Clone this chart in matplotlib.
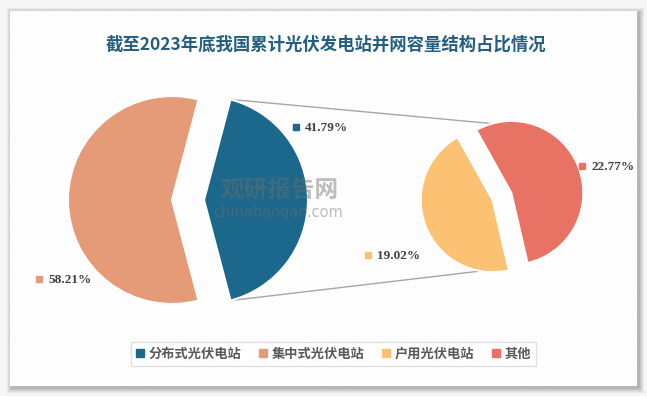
import numpy as np
import matplotlib
matplotlib.use("Agg")
import matplotlib.pyplot as plt
from matplotlib.patches import Rectangle
from matplotlib.lines import Line2D

plt.rcParams['font.family'] = ['Noto Sans CJK SC', 'DejaVu Sans']
plt.rcParams['hatch.linewidth'] = 0.4

# data
title = '截至2023年底我国累计光伏发电站并网容量结构占比情况'
main_labels = ['分布式光伏电站', '集中式光伏电站']
main_values = [41.79, 58.21]
sub_labels = ['其他', '户用光伏电站']
sub_values = [22.77, 19.02]
legend_order = ['分布式光伏电站', '集中式光伏电站', '户用光伏电站', '其他']

colors = {'分布式光伏电站': '#1b688c', '集中式光伏电站': '#e59a78',
          '户用光伏电站': '#fdc173', '其他': '#e87263'}

W, H = 647, 396
fig = plt.figure(figsize=(W / 100, H / 100), dpi=100)
fig.patch.set_facecolor('#f6f6f6')
ax = fig.add_axes([0, 0, 1, 1])

def py(y):
    return H - y

# card with soft shadow
for i, a in enumerate([0.05, 0.05, 0.05, 0.06, 0.07]):
    g = 5 - i
    ax.add_patch(Rectangle((10 - g + 2, py(386) - g - 2), 627 + 2 * g, 375 + 2 * g,
                           facecolor='#000000', edgecolor='none', alpha=a, zorder=0))
ax.add_patch(Rectangle((10, py(386)), 627, 375, facecolor='white',
                       edgecolor='none', zorder=1))
ax.add_patch(Rectangle((10, py(386)), 627, 375, facecolor='none',
                       edgecolor='#f6f6f6', hatch='\\' * 7, lw=0, zorder=1))

ax.text(326, py(45), title, ha='center', va='center', fontsize=12.5,
        fontweight='bold', color='#245f80', zorder=5)

# main pie (explode is in data units here)
c1 = (188, py(200))
r1 = 104
ex1 = 16
start1 = -360 * main_values[0] / sum(main_values) / 2
ax.pie(main_values, colors=[colors[l] for l in main_labels], center=c1,
       radius=r1, startangle=start1, explode=[ex1, ex1], frame=True,
       wedgeprops=dict(edgecolor='white', linewidth=1.5, zorder=3))

# sub pie
c2 = (502, py(196.5))
r2 = 72
ex2 = 10
ax.pie(sub_values, colors=[colors[l] for l in sub_labels], center=c2,
       radius=r2, startangle=-77, explode=[ex2, ex2], frame=True,
       wedgeprops=dict(edgecolor='white', linewidth=1.5, zorder=3))
ax.set_xlim(0, W)
ax.set_ylim(0, H)
ax.set_aspect('equal')
ax.axis('off')

# connector lines from the split slice to the sub pie
half = np.deg2rad(360 * main_values[0] / sum(main_values) / 2)
vx = c1[0] + ex1
top = (vx + r1 * np.cos(half), c1[1] + r1 * np.sin(half))
bot = (vx + r1 * np.cos(half), c1[1] - r1 * np.sin(half))
ax.plot([top[0], c2[0]], [top[1], c2[1] + r2], color='#a6a6a6', lw=1, zorder=2)
ax.plot([bot[0], c2[0]], [bot[1], c2[1] - r2], color='#a6a6a6', lw=1, zorder=2)

# value labels
lab_pos = {'分布式光伏电站': (296, 127), '集中式光伏电站': (39, 279),
           '户用光伏电站': (368, 255), '其他': (582, 166)}
vals = dict(zip(main_labels + sub_labels, main_values + sub_values))
for k, (x, y) in lab_pos.items():
    ax.plot(x, py(y), marker='s', ms=4, color=colors[k], zorder=5)
    ax.text(x + 9, py(y + 1), f'{vals[k]:.2f}%', ha='left', va='center',
            fontsize=9.5, fontweight='bold', family='Liberation Serif',
            color='#404040', zorder=5)

# watermark
ax.text(280, py(190), '观研报告网', ha='center', va='center', fontsize=17,
        fontweight='bold', color='#6e6e6e', alpha=0.45, zorder=4)
ax.text(278, py(212), 'chinabaogao.com', ha='center', va='center', fontsize=10.5,
        color='#6e6e6e', alpha=0.45, zorder=4, family='DejaVu Sans')

handles = [Line2D([], [], marker='s', ls='none', ms=6, color=colors[l]) for l in legend_order]
leg = ax.legend(handles, legend_order, loc='center', bbox_to_anchor=(333.5 / W, (H - 354) / H),
                ncol=4, frameon=True, fancybox=False, handlelength=0.6, handletextpad=0.4,
                columnspacing=1.3, borderpad=0.35, prop={'size': 9.5, 'weight': 'bold'})
leg.get_frame().set_edgecolor('#d9d9d9')
leg.get_frame().set_linewidth(1)
for t in leg.get_texts():
    t.set_color('#595959')
leg.set_zorder(6)

fig.savefig('out.png', dpi=100, facecolor=fig.get_facecolor())
